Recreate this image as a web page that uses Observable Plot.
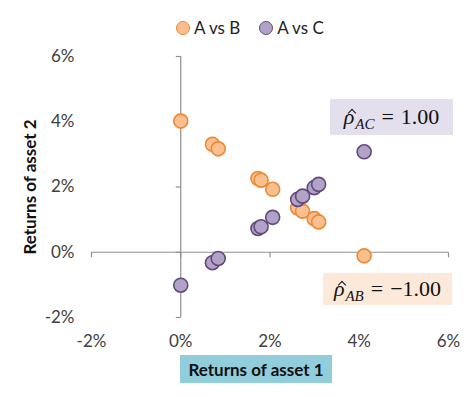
<!DOCTYPE html>
<html>
<head>
<meta charset="utf-8">
<script src="https://cdn.jsdelivr.net/npm/d3@7"></script>
<script src="https://cdn.jsdelivr.net/npm/@observablehq/plot@0.6"></script>
<style>
  html, body { margin: 0; padding: 0; background: #fff; }
  #wrap { position: relative; width: 474px; height: 397px; font-family: Lato, "Open Sans", sans-serif; color: #404040; }
  #wrap svg { position: absolute; left: 0; top: 0; }
  .legend { position: absolute; top: 17px; left: 176px; display: flex; align-items: center; font-size: 17px; color: #222; }
  .legend .item { display: flex; align-items: center; margin-right: 19px; }
  .legend .sw { width: 14px; height: 14px; border-radius: 50%; border: 1.5px solid; box-sizing: border-box; margin-right: 4px; }
  .note { position: absolute; font-family: "Liberation Serif", "DejaVu Serif", serif; font-size: 22px; color: #111; display: flex; align-items: center; justify-content: center; }
  .rho { position: relative; font-style: italic; display: inline-block; }
  .hat { position: absolute; left: 5px; top: 6px; width: 5px; height: 5px; border-left: 1.3px solid #111; border-top: 1.3px solid #111; transform: rotate(45deg); }
  .note sub { font-style: italic; font-size: 15px; vertical-align: -5px; margin-left: 1px; line-height: 0; }
  .eq { margin: 0 7px; }
  .xlab { position: absolute; left: 180px; top: 355px; width: 152px; height: 28px; background: #92CDDC; font-weight: bold; font-size: 17px; color: #111; display: flex; align-items: center; justify-content: center; }
  .ylab { position: absolute; left: 29px; top: 187px; transform: translate(-50%, -50%) rotate(-90deg); white-space: nowrap; font-weight: bold; font-size: 17px; color: #111; }
</style>
</head>
<body>
<div id="wrap"></div>
<script>
// Data
const series = ["A vs B", "A vs C"];
const seriesFill = ["#F9BF8F", "#B3A2C7"];
const seriesStroke = ["#EE8833", "#604A7B"];
const returns1 = [0, 0.71, 0.84, 1.73, 1.80, 2.06, 2.62, 2.73, 2.99, 3.09, 4.11];
const returnsB = [4.02, 3.31, 3.17, 2.26, 2.21, 1.93, 1.36, 1.26, 1.03, 0.93, -0.11];
const returnsC = [-1.01, -0.32, -0.19, 0.73, 0.78, 1.07, 1.62, 1.72, 1.98, 2.08, 3.08];
const ticks = [-2, 0, 2, 4, 6];
const rhoAC = "1.00";
const rhoAB = "\u22121.00";
const xLabel = "Returns of asset 1";
const yLabel = "Returns of asset 2";

const data = [
  ...returns1.map((x, i) => ({x, y: returnsB[i], s: series[0]})),
  ...returns1.map((x, i) => ({x, y: returnsC[i], s: series[1]}))
];

const leftTick = {draw(ctx) { ctx.moveTo(0, 0); ctx.lineTo(-5, 0); }};
const downTick = {draw(ctx) { ctx.moveTo(0, 0); ctx.lineTo(0, 5); }};
const axisColor = "#8f8f8f";

const chart = Plot.plot({
  width: 474,
  height: 397,
  marginTop: 56,
  marginBottom: 80,
  marginLeft: 91,
  marginRight: 26,
  style: {fontFamily: "Lato, 'Open Sans', sans-serif", fontSize: "17px", color: "#404040", background: "transparent"},
  x: {domain: [-2, 6], ticks, tickFormat: d => `${d}%`, tickSize: 0, tickPadding: 17, label: null},
  y: {domain: [-2, 6], ticks, tickFormat: d => `${d}%`, tickSize: 0, tickPadding: 17, label: null},
  marks: [
    Plot.ruleX([0], {y1: ticks[0], y2: ticks[ticks.length - 1], stroke: axisColor, strokeWidth: 1.2}),
    Plot.ruleY([0], {x1: ticks[0], x2: ticks[ticks.length - 1], stroke: axisColor, strokeWidth: 1.2}),
    Plot.dot(ticks, {x: () => 0, y: d => d, symbol: leftTick, fill: "none", stroke: axisColor, strokeWidth: 1.2}),
    Plot.dot(ticks, {x: d => d, y: () => 0, symbol: downTick, fill: "none", stroke: axisColor, strokeWidth: 1.2}),
    Plot.dot(data, {x: "x", y: "y", r: 7, fill: d => seriesFill[series.indexOf(d.s)], stroke: d => seriesStroke[series.indexOf(d.s)], strokeWidth: 1.6})
  ]
});

const wrap = document.getElementById("wrap");
wrap.appendChild(chart);

// legend
const legend = document.createElement("div");
legend.className = "legend";
series.forEach((s, i) => {
  const it = document.createElement("div");
  it.className = "item";
  const sw = document.createElement("span");
  sw.className = "sw";
  sw.style.background = seriesFill[i];
  sw.style.borderColor = seriesStroke[i];
  it.appendChild(sw);
  it.appendChild(document.createTextNode(s));
  legend.appendChild(it);
});
wrap.appendChild(legend);

// annotations
function note(sub, val, bg, left, top, w, h) {
  const n = document.createElement("div");
  n.className = "note";
  Object.assign(n.style, {left: left + "px", top: top + "px", width: w + "px", height: h + "px", background: bg});
  n.innerHTML = `<span><span class="rho">\u03C1<span class="hat"></span></span><sub>${sub}</sub><span class="eq">=</span>${val}</span>`;
  wrap.appendChild(n);
}
note("AC", rhoAC, "#E4DFEC", 330, 99, 123, 36);
note("AB", rhoAB, "#FDE9D9", 323, 273, 129, 32);

const xl = document.createElement("div");
xl.className = "xlab";
xl.textContent = xLabel;
wrap.appendChild(xl);
const yl = document.createElement("div");
yl.className = "ylab";
yl.textContent = yLabel;
wrap.appendChild(yl);
</script>
</body>
</html>
